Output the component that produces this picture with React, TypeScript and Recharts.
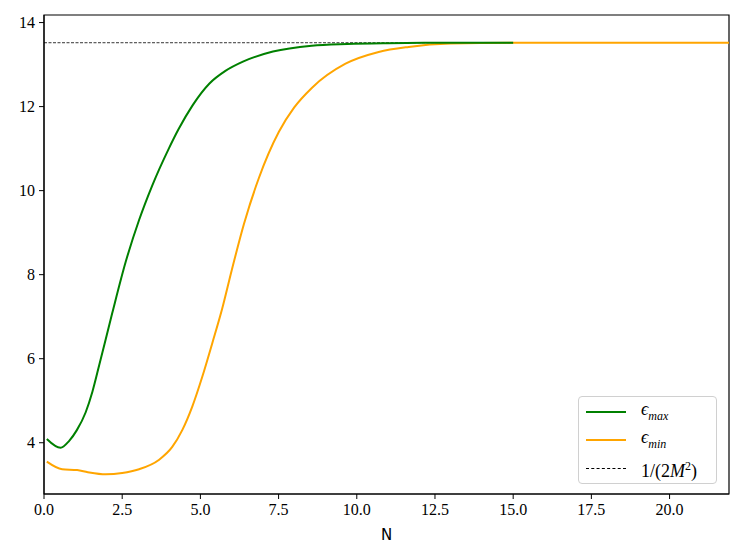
import { Line, LineChart, XAxis, YAxis, ReferenceArea } from "recharts"

// epsilon_max curve (green)
const nMax = [0.09, 0.53, 0.8, 1.05, 1.33, 1.55, 1.76, 2.18, 2.61, 3.04, 3.46, 3.99, 4.3, 4.75, 5.29, 5.8, 6.36, 7.32, 8.56, 9.7, 11, 12.5, 15]
const epsMax = [4.09, 3.88, 4.04, 4.3, 4.72, 5.22, 5.83, 7.08, 8.3, 9.3, 10.12, 11.0, 11.46, 12.03, 12.55, 12.85, 13.07, 13.31, 13.45, 13.49, 13.51, 13.52, 13.52]

// epsilon_min curve (orange)
const nMin = [0.09, 0.58, 1.06, 1.4, 1.97, 2.5, 3.04, 3.67, 4.1, 4.42, 4.74, 5.06, 5.38, 5.7, 6.0, 6.39, 6.87, 7.51, 8.0, 8.57, 9.64, 10.7, 11.66, 13, 15, 18, 21.9]
const epsMin = [3.55, 3.37, 3.35, 3.3, 3.25, 3.28, 3.37, 3.59, 3.9, 4.3, 4.86, 5.57, 6.37, 7.2, 8.1, 9.2, 10.3, 11.4, 11.98, 12.45, 13.02, 13.3, 13.42, 13.5, 13.52, 13.52, 13.52]

// 1/(2M^2) reference level
const limitN = [0, 15]
const limitValue = 13.52

const xTicks = [0, 2.5, 5, 7.5, 10, 12.5, 15, 17.5, 20]
const yTicks = [4, 6, 8, 10, 12, 14]

const maxData = nMax.map((n, i) => ({ n, v: epsMax[i] }))
const minData = nMin.map((n, i) => ({ n, v: epsMin[i] }))
const limitData = limitN.map((n) => ({ n, v: limitValue }))

const serif = "'Liberation Serif', serif"

function LegendBox() {
  const row = (sample: React.ReactNode, label: React.ReactNode) => (
    <div style={{ display: "flex", alignItems: "center", height: 28 }}>
      <div style={{ width: 40, marginRight: 15 }}>{sample}</div>
      <div style={{ fontFamily: serif, fontSize: 18, lineHeight: "18px" }}>{label}</div>
    </div>
  )
  return (
    <div
      style={{
        position: "absolute",
        left: 578,
        top: 396,
        width: 139,
        height: 88,
        boxSizing: "border-box",
        border: "1px solid #d0d0d0",
        borderRadius: 4,
        background: "rgba(255,255,255,0.8)",
        padding: "1px 0 0 7px",
      }}
    >
      {row(
        <div style={{ height: 2, background: "#008000" }} />,
        <span><i>ϵ</i><sub style={{ fontSize: 12, fontStyle: "italic" }}>max</sub></span>
      )}
      {row(
        <div style={{ height: 2, background: "#ffa500" }} />,
        <span><i>ϵ</i><sub style={{ fontSize: 12, fontStyle: "italic" }}>min</sub></span>
      )}
      {row(
        <div style={{ borderTop: "1px dashed #000" }} />,
        <span>1/(2<i>M</i><sup style={{ fontSize: 12 }}>2</sup>)</span>
      )}
    </div>
  )
}

export default function App() {
  return (
    <div style={{ position: "fixed", left: 0, top: 0, width: 747, height: 560, background: "#fff" }}>
      <LineChart width={747} height={560} margin={{ top: 15, right: 18, left: 0, bottom: 0 }}>
        <XAxis
          dataKey="n"
          type="number"
          domain={[0, 21.9]}
          ticks={xTicks}
          tickFormatter={(v: number) => v.toFixed(1)}
          allowDuplicatedCategory={false}
          height={66}
          stroke="#000"
          tickSize={5}
          tickMargin={5}
          tick={{ fill: "#000", fontSize: 16, fontFamily: serif }}
          label={{ value: "N", position: "insideBottom", offset: 20, fill: "#000", fontSize: 15, fontFamily: "'DejaVu Sans', sans-serif" }}
        />
        <YAxis
          type="number"
          domain={[2.78, 14.18]}
          ticks={yTicks}
          width={44}
          stroke="#000"
          tickSize={5}
          tickMargin={4}
          tick={{ fill: "#000", fontSize: 16, fontFamily: serif }}
        />
        <ReferenceArea x1={0} x2={21.9} y1={2.78} y2={14.18} fill="none" stroke="#000" strokeWidth={1.2} />
        <Line data={limitData} dataKey="v" stroke="#000" strokeWidth={0.8} strokeDasharray="3 1.5" dot={false} isAnimationActive={false} />
        <Line data={minData} dataKey="v" type="monotone" stroke="#ffa500" strokeWidth={2} dot={false} isAnimationActive={false} />
        <Line data={maxData} dataKey="v" type="monotone" stroke="#008000" strokeWidth={2} dot={false} isAnimationActive={false} />
      </LineChart>
      <LegendBox />
    </div>
  )
}
